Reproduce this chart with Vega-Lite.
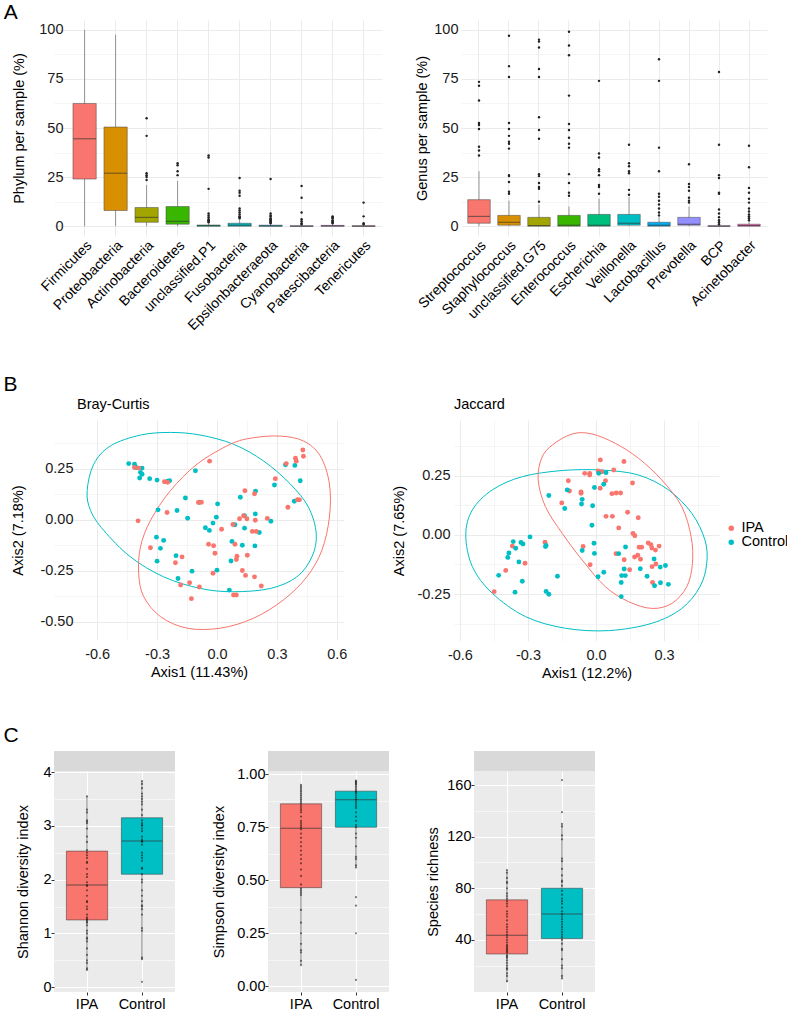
{
  "$schema": "https://vega.github.io/schema/vega-lite/v6.json",
  "background": "white",
  "padding": {"left": 3, "top": 2, "right": 0, "bottom": 0},
  "config": {
    "font": "Liberation Sans",
    "view": {"stroke": null},
    "axis": {"labelFont": "Liberation Sans", "titleFont": "Liberation Sans", "labelColor": "#1a1a1a", "titleColor": "#000000", "titleFontWeight": "normal", "labelFontSize": 14.5, "titleFontSize": 14.5, "domain": false, "labelOverlap": false},
    "title": {"font": "Liberation Sans", "fontWeight": "normal", "color": "#000000"},
    "legend": {"labelFont": "Liberation Sans"}
  },
  "datasets": {
    "phylum_box": [
      {"cat": "Firmicutes", "lo": 0, "q1": 24, "med": 44.5, "q3": 62.5, "hi": 100},
      {"cat": "Proteobacteria", "lo": 0, "q1": 8, "med": 27, "q3": 50.5, "hi": 97.5},
      {"cat": "Actinobacteria", "lo": 0, "q1": 2, "med": 4.5, "q3": 9.5, "hi": 21},
      {"cat": "Bacteroidetes", "lo": 0, "q1": 1, "med": 2.5, "q3": 10, "hi": 23},
      {"cat": "unclassified.P1", "lo": 0, "q1": 0, "med": 0.2, "q3": 0.6, "hi": 1.5},
      {"cat": "Fusobacteria", "lo": 0, "q1": 0, "med": 0.5, "q3": 1.5, "hi": 3.5},
      {"cat": "Epsilonbacteraeota", "lo": 0, "q1": 0, "med": 0.1, "q3": 0.5, "hi": 1.2},
      {"cat": "Cyanobacteria", "lo": 0, "q1": 0, "med": 0, "q3": 0.2, "hi": 0.5},
      {"cat": "Patescibacteria", "lo": 0, "q1": 0, "med": 0.1, "q3": 0.4, "hi": 1},
      {"cat": "Tenericutes", "lo": 0, "q1": 0, "med": 0, "q3": 0.2, "hi": 0.5}
    ],
    "phylum_out": [
      {"cat": "Actinobacteria", "v": 55}, {"cat": "Actinobacteria", "v": 46}, {"cat": "Actinobacteria", "v": 27}, {"cat": "Actinobacteria", "v": 26}, {"cat": "Actinobacteria", "v": 25}, {"cat": "Actinobacteria", "v": 23.5},
      {"cat": "Bacteroidetes", "v": 32}, {"cat": "Bacteroidetes", "v": 31}, {"cat": "Bacteroidetes", "v": 28}, {"cat": "Bacteroidetes", "v": 26},
      {"cat": "unclassified.P1", "v": 36}, {"cat": "unclassified.P1", "v": 35}, {"cat": "unclassified.P1", "v": 19}, {"cat": "unclassified.P1", "v": 6.5}, {"cat": "unclassified.P1", "v": 5.5}, {"cat": "unclassified.P1", "v": 4.5}, {"cat": "unclassified.P1", "v": 3.5}, {"cat": "unclassified.P1", "v": 3}, {"cat": "unclassified.P1", "v": 2.5}, {"cat": "unclassified.P1", "v": 2},
      {"cat": "Fusobacteria", "v": 24.5}, {"cat": "Fusobacteria", "v": 18}, {"cat": "Fusobacteria", "v": 17}, {"cat": "Fusobacteria", "v": 15.5}, {"cat": "Fusobacteria", "v": 9}, {"cat": "Fusobacteria", "v": 8}, {"cat": "Fusobacteria", "v": 7}, {"cat": "Fusobacteria", "v": 6}, {"cat": "Fusobacteria", "v": 5}, {"cat": "Fusobacteria", "v": 4.5}, {"cat": "Fusobacteria", "v": 4},
      {"cat": "Epsilonbacteraeota", "v": 24}, {"cat": "Epsilonbacteraeota", "v": 6.5}, {"cat": "Epsilonbacteraeota", "v": 5.5}, {"cat": "Epsilonbacteraeota", "v": 5}, {"cat": "Epsilonbacteraeota", "v": 4}, {"cat": "Epsilonbacteraeota", "v": 3.5}, {"cat": "Epsilonbacteraeota", "v": 3}, {"cat": "Epsilonbacteraeota", "v": 2.5}, {"cat": "Epsilonbacteraeota", "v": 2}, {"cat": "Epsilonbacteraeota", "v": 1.5},
      {"cat": "Cyanobacteria", "v": 20.5}, {"cat": "Cyanobacteria", "v": 14.5}, {"cat": "Cyanobacteria", "v": 7}, {"cat": "Cyanobacteria", "v": 3.5}, {"cat": "Cyanobacteria", "v": 2.5}, {"cat": "Cyanobacteria", "v": 1.5}, {"cat": "Cyanobacteria", "v": 1},
      {"cat": "Patescibacteria", "v": 5}, {"cat": "Patescibacteria", "v": 4.5}, {"cat": "Patescibacteria", "v": 4}, {"cat": "Patescibacteria", "v": 3}, {"cat": "Patescibacteria", "v": 2.5}, {"cat": "Patescibacteria", "v": 2}, {"cat": "Patescibacteria", "v": 1.5},
      {"cat": "Tenericutes", "v": 12}, {"cat": "Tenericutes", "v": 5}, {"cat": "Tenericutes", "v": 1.5}, {"cat": "Tenericutes", "v": 1}
    ],
    "genus_box": [
      {"cat": "Streptococcus", "lo": 0, "q1": 1.5, "med": 5, "q3": 13.5, "hi": 28},
      {"cat": "Staphylococcus", "lo": 0, "q1": 0.5, "med": 2, "q3": 5.5, "hi": 13},
      {"cat": "unclassified.G75", "lo": 0, "q1": 0, "med": 0.3, "q3": 4.5, "hi": 11},
      {"cat": "Enterococcus", "lo": 0, "q1": 0, "med": 0.5, "q3": 5.5, "hi": 10},
      {"cat": "Escherichia", "lo": 0, "q1": 0, "med": 0.5, "q3": 6, "hi": 14},
      {"cat": "Veillonella", "lo": 0, "q1": 0.5, "med": 1.5, "q3": 6, "hi": 15},
      {"cat": "Lactobacillus", "lo": 0, "q1": 0, "med": 0.5, "q3": 2, "hi": 4.5},
      {"cat": "Prevotella", "lo": 0, "q1": 0.5, "med": 1, "q3": 4.5, "hi": 10},
      {"cat": "BCP", "lo": 0, "q1": 0, "med": 0, "q3": 0.2, "hi": 0.5},
      {"cat": "Acinetobacter", "lo": 0, "q1": 0, "med": 0.3, "q3": 1, "hi": 2.5}
    ],
    "genus_out": [
      {"cat": "Streptococcus", "v": 73.5}, {"cat": "Streptococcus", "v": 71.5}, {"cat": "Streptococcus", "v": 64}, {"cat": "Streptococcus", "v": 52.5}, {"cat": "Streptococcus", "v": 51.5}, {"cat": "Streptococcus", "v": 49.5}, {"cat": "Streptococcus", "v": 40.5}, {"cat": "Streptococcus", "v": 38.5}, {"cat": "Streptococcus", "v": 36},
      {"cat": "Staphylococcus", "v": 97}, {"cat": "Staphylococcus", "v": 81.5}, {"cat": "Staphylococcus", "v": 76}, {"cat": "Staphylococcus", "v": 52.5}, {"cat": "Staphylococcus", "v": 49.5}, {"cat": "Staphylococcus", "v": 46}, {"cat": "Staphylococcus", "v": 43}, {"cat": "Staphylococcus", "v": 42}, {"cat": "Staphylococcus", "v": 39.5}, {"cat": "Staphylococcus", "v": 26}, {"cat": "Staphylococcus", "v": 25.5}, {"cat": "Staphylococcus", "v": 22.5}, {"cat": "Staphylococcus", "v": 17.5}, {"cat": "Staphylococcus", "v": 16.5},
      {"cat": "unclassified.G75", "v": 95}, {"cat": "unclassified.G75", "v": 94}, {"cat": "unclassified.G75", "v": 91}, {"cat": "unclassified.G75", "v": 80}, {"cat": "unclassified.G75", "v": 76}, {"cat": "unclassified.G75", "v": 55.5}, {"cat": "unclassified.G75", "v": 49}, {"cat": "unclassified.G75", "v": 44.5}, {"cat": "unclassified.G75", "v": 26.5}, {"cat": "unclassified.G75", "v": 25.5}, {"cat": "unclassified.G75", "v": 22}, {"cat": "unclassified.G75", "v": 20}, {"cat": "unclassified.G75", "v": 19}, {"cat": "unclassified.G75", "v": 12.5},
      {"cat": "Enterococcus", "v": 99}, {"cat": "Enterococcus", "v": 92}, {"cat": "Enterococcus", "v": 87}, {"cat": "Enterococcus", "v": 66.5}, {"cat": "Enterococcus", "v": 52}, {"cat": "Enterococcus", "v": 49}, {"cat": "Enterococcus", "v": 45}, {"cat": "Enterococcus", "v": 42}, {"cat": "Enterococcus", "v": 40}, {"cat": "Enterococcus", "v": 26.5}, {"cat": "Enterococcus", "v": 22}, {"cat": "Enterococcus", "v": 17}, {"cat": "Enterococcus", "v": 15.5},
      {"cat": "Escherichia", "v": 74}, {"cat": "Escherichia", "v": 37}, {"cat": "Escherichia", "v": 35}, {"cat": "Escherichia", "v": 29}, {"cat": "Escherichia", "v": 28}, {"cat": "Escherichia", "v": 26}, {"cat": "Escherichia", "v": 21}, {"cat": "Escherichia", "v": 20}, {"cat": "Escherichia", "v": 16.5},
      {"cat": "Veillonella", "v": 41.5}, {"cat": "Veillonella", "v": 32}, {"cat": "Veillonella", "v": 30.5}, {"cat": "Veillonella", "v": 28}, {"cat": "Veillonella", "v": 27}, {"cat": "Veillonella", "v": 18.5}, {"cat": "Veillonella", "v": 16},
      {"cat": "Lactobacillus", "v": 85}, {"cat": "Lactobacillus", "v": 74}, {"cat": "Lactobacillus", "v": 40}, {"cat": "Lactobacillus", "v": 28}, {"cat": "Lactobacillus", "v": 16.5}, {"cat": "Lactobacillus", "v": 15}, {"cat": "Lactobacillus", "v": 13}, {"cat": "Lactobacillus", "v": 11}, {"cat": "Lactobacillus", "v": 9}, {"cat": "Lactobacillus", "v": 7}, {"cat": "Lactobacillus", "v": 5.5},
      {"cat": "Prevotella", "v": 31.5}, {"cat": "Prevotella", "v": 21.5}, {"cat": "Prevotella", "v": 20}, {"cat": "Prevotella", "v": 18}, {"cat": "Prevotella", "v": 14.5}, {"cat": "Prevotella", "v": 13}, {"cat": "Prevotella", "v": 12},
      {"cat": "BCP", "v": 78.5}, {"cat": "BCP", "v": 41.5}, {"cat": "BCP", "v": 26}, {"cat": "BCP", "v": 24.5}, {"cat": "BCP", "v": 17}, {"cat": "BCP", "v": 16.5}, {"cat": "BCP", "v": 8.5}, {"cat": "BCP", "v": 6.5}, {"cat": "BCP", "v": 4.5}, {"cat": "BCP", "v": 3}, {"cat": "BCP", "v": 2}, {"cat": "BCP", "v": 1},
      {"cat": "Acinetobacter", "v": 41}, {"cat": "Acinetobacter", "v": 30}, {"cat": "Acinetobacter", "v": 19.5}, {"cat": "Acinetobacter", "v": 17}, {"cat": "Acinetobacter", "v": 14}, {"cat": "Acinetobacter", "v": 12}, {"cat": "Acinetobacter", "v": 9}, {"cat": "Acinetobacter", "v": 7.5}, {"cat": "Acinetobacter", "v": 6}, {"cat": "Acinetobacter", "v": 5}, {"cat": "Acinetobacter", "v": 4}, {"cat": "Acinetobacter", "v": 3}
    ],
    "bc_pts": [
      {"g": "Control", "x": -0.442, "y": 0.276}, {"g": "Control", "x": -0.413, "y": 0.273}, {"g": "Control", "x": -0.405, "y": 0.257}, {"g": "Control", "x": -0.375, "y": 0.254}, {"g": "Control", "x": -0.383, "y": 0.233}, {"g": "Control", "x": -0.375, "y": 0.224}, {"g": "Control", "x": -0.387, "y": 0.205}, {"g": "Control", "x": -0.337, "y": 0.202}, {"g": "Control", "x": -0.3, "y": 0.195}, {"g": "Control", "x": -0.247, "y": 0.189}, {"g": "Control", "x": -0.237, "y": 0.192}, {"g": "Control", "x": -0.108, "y": 0.241}, {"g": "Control", "x": -0.158, "y": 0.107}, {"g": "Control", "x": -0.087, "y": 0.086}, {"g": "Control", "x": 0.003, "y": 0.078}, {"g": "Control", "x": -0.295, "y": 0.049}, {"g": "Control", "x": -0.2, "y": 0.046}, {"g": "Control", "x": -0.147, "y": 0.008}, {"g": "Control", "x": -0.003, "y": 0.013}, {"g": "Control", "x": -0.02, "y": -0.016}, {"g": "Control", "x": -0.058, "y": -0.039}, {"g": "Control", "x": -0.038, "y": -0.052}, {"g": "Control", "x": 0.09, "y": -0.024}, {"g": "Control", "x": 0.138, "y": 0.02}, {"g": "Control", "x": 0.138, "y": -0.041}, {"g": "Control", "x": 0.193, "y": 0.14}, {"g": "Control", "x": 0.117, "y": 0.111}, {"g": "Control", "x": 0.192, "y": 0.029}, {"g": "Control", "x": 0.212, "y": -0.062}, {"g": "Control", "x": 0.27, "y": -0.007}, {"g": "Control", "x": 0.288, "y": 0.171}, {"g": "Control", "x": 0.417, "y": 0.192}, {"g": "Control", "x": 0.343, "y": 0.27}, {"g": "Control", "x": 0.39, "y": 0.267}, {"g": "Control", "x": 0.387, "y": 0.091}, {"g": "Control", "x": -0.303, "y": -0.085}, {"g": "Control", "x": -0.267, "y": -0.101}, {"g": "Control", "x": -0.283, "y": -0.14}, {"g": "Control", "x": -0.3, "y": -0.203}, {"g": "Control", "x": -0.205, "y": -0.176}, {"g": "Control", "x": -0.125, "y": -0.252}, {"g": "Control", "x": -0.195, "y": -0.288}, {"g": "Control", "x": 0.0, "y": -0.247}, {"g": "Control", "x": 0.075, "y": -0.106}, {"g": "Control", "x": 0.127, "y": -0.125}, {"g": "Control", "x": 0.19, "y": -0.128}, {"g": "Control", "x": 0.07, "y": -0.202}, {"g": "Control", "x": 0.062, "y": -0.345},
      {"g": "IPA", "x": -0.037, "y": 0.288}, {"g": "IPA", "x": -0.413, "y": 0.257}, {"g": "IPA", "x": -0.392, "y": 0.254}, {"g": "IPA", "x": -0.263, "y": 0.187}, {"g": "IPA", "x": -0.247, "y": 0.184}, {"g": "IPA", "x": -0.395, "y": -0.005}, {"g": "IPA", "x": -0.25, "y": 0.036}, {"g": "IPA", "x": -0.333, "y": -0.137}, {"g": "IPA", "x": -0.175, "y": -0.182}, {"g": "IPA", "x": -0.208, "y": -0.211}, {"g": "IPA", "x": -0.137, "y": -0.309}, {"g": "IPA", "x": -0.182, "y": -0.32}, {"g": "IPA", "x": -0.088, "y": -0.33}, {"g": "IPA", "x": -0.128, "y": -0.387}, {"g": "IPA", "x": -0.078, "y": 0.086}, {"g": "IPA", "x": -0.093, "y": 0.085}, {"g": "IPA", "x": -0.042, "y": -0.12}, {"g": "IPA", "x": -0.017, "y": -0.127}, {"g": "IPA", "x": -0.01, "y": -0.164}, {"g": "IPA", "x": -0.02, "y": -0.262}, {"g": "IPA", "x": 0.023, "y": -0.046}, {"g": "IPA", "x": 0.08, "y": -0.023}, {"g": "IPA", "x": 0.113, "y": 0.005}, {"g": "IPA", "x": 0.133, "y": 0.02}, {"g": "IPA", "x": 0.15, "y": 0.005}, {"g": "IPA", "x": 0.192, "y": -0.002}, {"g": "IPA", "x": 0.252, "y": 0.007}, {"g": "IPA", "x": 0.188, "y": 0.128}, {"g": "IPA", "x": 0.14, "y": 0.143}, {"g": "IPA", "x": 0.177, "y": -0.057}, {"g": "IPA", "x": 0.197, "y": -0.057}, {"g": "IPA", "x": 0.09, "y": -0.12}, {"g": "IPA", "x": 0.1, "y": -0.179}, {"g": "IPA", "x": 0.097, "y": -0.195}, {"g": "IPA", "x": 0.152, "y": -0.174}, {"g": "IPA", "x": 0.127, "y": -0.249}, {"g": "IPA", "x": 0.143, "y": -0.273}, {"g": "IPA", "x": 0.188, "y": -0.28}, {"g": "IPA", "x": 0.222, "y": -0.325}, {"g": "IPA", "x": 0.083, "y": -0.369}, {"g": "IPA", "x": 0.097, "y": -0.369}, {"g": "IPA", "x": 0.292, "y": 0.202}, {"g": "IPA", "x": 0.347, "y": 0.276}, {"g": "IPA", "x": 0.393, "y": 0.302}, {"g": "IPA", "x": 0.397, "y": 0.288}, {"g": "IPA", "x": 0.43, "y": 0.343}, {"g": "IPA", "x": 0.433, "y": 0.312}, {"g": "IPA", "x": 0.355, "y": 0.062}, {"g": "IPA", "x": 0.403, "y": 0.099}, {"g": "IPA", "x": 0.413, "y": 0.098}
    ],
    "bc_ell": [
      {"g": "Control", "i": 0, "x": -0.65, "y": 0.143}, {"g": "Control", "i": 1, "x": -0.617, "y": 0.273}, {"g": "Control", "i": 2, "x": -0.533, "y": 0.363}, {"g": "Control", "i": 3, "x": -0.383, "y": 0.416}, {"g": "Control", "i": 4, "x": -0.233, "y": 0.429}, {"g": "Control", "i": 5, "x": -0.083, "y": 0.416}, {"g": "Control", "i": 6, "x": 0.083, "y": 0.371}, {"g": "Control", "i": 7, "x": 0.233, "y": 0.289}, {"g": "Control", "i": 8, "x": 0.367, "y": 0.176}, {"g": "Control", "i": 9, "x": 0.458, "y": 0.062}, {"g": "Control", "i": 10, "x": 0.497, "y": -0.068}, {"g": "Control", "i": 11, "x": 0.475, "y": -0.182}, {"g": "Control", "i": 12, "x": 0.4, "y": -0.28}, {"g": "Control", "i": 13, "x": 0.267, "y": -0.337}, {"g": "Control", "i": 14, "x": 0.083, "y": -0.353}, {"g": "Control", "i": 15, "x": -0.083, "y": -0.337}, {"g": "Control", "i": 16, "x": -0.267, "y": -0.28}, {"g": "Control", "i": 17, "x": -0.433, "y": -0.182}, {"g": "Control", "i": 18, "x": -0.567, "y": -0.052}, {"g": "Control", "i": 19, "x": -0.633, "y": 0.046},
      {"g": "IPA", "i": 0, "x": 0.067, "y": 0.371}, {"g": "IPA", "i": 1, "x": 0.183, "y": 0.403}, {"g": "IPA", "i": 2, "x": 0.317, "y": 0.411}, {"g": "IPA", "i": 3, "x": 0.433, "y": 0.387}, {"g": "IPA", "i": 4, "x": 0.517, "y": 0.314}, {"g": "IPA", "i": 5, "x": 0.563, "y": 0.176}, {"g": "IPA", "i": 6, "x": 0.563, "y": 0.013}, {"g": "IPA", "i": 7, "x": 0.525, "y": -0.15}, {"g": "IPA", "i": 8, "x": 0.45, "y": -0.28}, {"g": "IPA", "i": 9, "x": 0.333, "y": -0.393}, {"g": "IPA", "i": 10, "x": 0.183, "y": -0.483}, {"g": "IPA", "i": 11, "x": 0.017, "y": -0.532}, {"g": "IPA", "i": 12, "x": -0.15, "y": -0.532}, {"g": "IPA", "i": 13, "x": -0.283, "y": -0.475}, {"g": "IPA", "i": 14, "x": -0.367, "y": -0.377}, {"g": "IPA", "i": 15, "x": -0.392, "y": -0.263}, {"g": "IPA", "i": 16, "x": -0.383, "y": -0.133}, {"g": "IPA", "i": 17, "x": -0.333, "y": -0.003}, {"g": "IPA", "i": 18, "x": -0.233, "y": 0.143}, {"g": "IPA", "i": 19, "x": -0.1, "y": 0.273}
    ],
    "jac_pts": [
      {"g": "IPA", "x": 0.019, "y": 0.318}, {"g": "IPA", "x": 0.123, "y": 0.311}, {"g": "IPA", "x": -0.05, "y": 0.261}, {"g": "IPA", "x": -0.028, "y": 0.261}, {"g": "IPA", "x": -0.028, "y": 0.254}, {"g": "IPA", "x": 0.009, "y": 0.271}, {"g": "IPA", "x": 0.026, "y": 0.268}, {"g": "IPA", "x": 0.078, "y": 0.275}, {"g": "IPA", "x": -0.122, "y": 0.23}, {"g": "IPA", "x": -0.117, "y": 0.186}, {"g": "IPA", "x": -0.066, "y": 0.182}, {"g": "IPA", "x": -0.066, "y": 0.177}, {"g": "IPA", "x": 0.042, "y": 0.23}, {"g": "IPA", "x": 0.018, "y": 0.198}, {"g": "IPA", "x": 0.07, "y": 0.175}, {"g": "IPA", "x": 0.089, "y": 0.178}, {"g": "IPA", "x": 0.108, "y": 0.178}, {"g": "IPA", "x": 0.161, "y": 0.22}, {"g": "IPA", "x": -0.151, "y": 0.136}, {"g": "IPA", "x": 0.139, "y": 0.096}, {"g": "IPA", "x": 0.044, "y": 0.079}, {"g": "IPA", "x": 0.072, "y": 0.079}, {"g": "IPA", "x": 0.186, "y": 0.073}, {"g": "IPA", "x": 0.1, "y": 0.03}, {"g": "IPA", "x": 0.163, "y": 0.006}, {"g": "IPA", "x": 0.171, "y": -0.003}, {"g": "IPA", "x": -0.225, "y": -0.031}, {"g": "IPA", "x": -0.369, "y": -0.047}, {"g": "IPA", "x": -0.057, "y": -0.049}, {"g": "IPA", "x": -0.313, "y": -0.12}, {"g": "IPA", "x": -0.398, "y": -0.15}, {"g": "IPA", "x": -0.449, "y": -0.24}, {"g": "IPA", "x": -0.026, "y": -0.126}, {"g": "IPA", "x": 0.088, "y": -0.079}, {"g": "IPA", "x": 0.124, "y": -0.105}, {"g": "IPA", "x": 0.148, "y": -0.147}, {"g": "IPA", "x": 0.17, "y": -0.093}, {"g": "IPA", "x": 0.184, "y": -0.086}, {"g": "IPA", "x": 0.19, "y": -0.052}, {"g": "IPA", "x": 0.201, "y": -0.052}, {"g": "IPA", "x": 0.23, "y": -0.034}, {"g": "IPA", "x": 0.242, "y": -0.041}, {"g": "IPA", "x": 0.246, "y": -0.055}, {"g": "IPA", "x": 0.262, "y": -0.064}, {"g": "IPA", "x": 0.278, "y": -0.047}, {"g": "IPA", "x": 0.196, "y": -0.103}, {"g": "IPA", "x": 0.247, "y": -0.134}, {"g": "IPA", "x": 0.264, "y": -0.123}, {"g": "IPA", "x": 0.249, "y": -0.201},
      {"g": "Control", "x": 0.012, "y": 0.261}, {"g": "Control", "x": 0.044, "y": 0.264}, {"g": "Control", "x": 0.034, "y": 0.215}, {"g": "Control", "x": -0.007, "y": 0.201}, {"g": "Control", "x": -0.127, "y": 0.191}, {"g": "Control", "x": -0.208, "y": 0.167}, {"g": "Control", "x": -0.061, "y": 0.151}, {"g": "Control", "x": -0.064, "y": 0.131}, {"g": "Control", "x": -0.138, "y": 0.112}, {"g": "Control", "x": -0.015, "y": 0.124}, {"g": "Control", "x": -0.018, "y": 0.041}, {"g": "Control", "x": -0.291, "y": -0.008}, {"g": "Control", "x": -0.365, "y": -0.028}, {"g": "Control", "x": -0.331, "y": -0.032}, {"g": "Control", "x": -0.322, "y": -0.038}, {"g": "Control", "x": -0.354, "y": -0.056}, {"g": "Control", "x": -0.384, "y": -0.076}, {"g": "Control", "x": -0.389, "y": -0.095}, {"g": "Control", "x": -0.34, "y": -0.114}, {"g": "Control", "x": -0.429, "y": -0.171}, {"g": "Control", "x": -0.325, "y": -0.196}, {"g": "Control", "x": -0.357, "y": -0.242}, {"g": "Control", "x": -0.22, "y": -0.239}, {"g": "Control", "x": -0.208, "y": -0.251}, {"g": "Control", "x": -0.17, "y": -0.175}, {"g": "Control", "x": -0.223, "y": -0.049}, {"g": "Control", "x": -0.22, "y": -0.044}, {"g": "Control", "x": -0.061, "y": -0.066}, {"g": "Control", "x": -0.009, "y": -0.035}, {"g": "Control", "x": -0.007, "y": -0.078}, {"g": "Control", "x": 0.009, "y": -0.177}, {"g": "Control", "x": 0.034, "y": -0.158}, {"g": "Control", "x": 0.1, "y": -0.079}, {"g": "Control", "x": 0.13, "y": -0.051}, {"g": "Control", "x": 0.124, "y": -0.144}, {"g": "Control", "x": 0.113, "y": -0.172}, {"g": "Control", "x": 0.129, "y": -0.172}, {"g": "Control", "x": 0.111, "y": -0.201}, {"g": "Control", "x": 0.111, "y": -0.261}, {"g": "Control", "x": 0.195, "y": -0.143}, {"g": "Control", "x": 0.225, "y": -0.175}, {"g": "Control", "x": 0.256, "y": -0.102}, {"g": "Control", "x": 0.283, "y": -0.136}, {"g": "Control", "x": 0.306, "y": -0.129}, {"g": "Control", "x": 0.284, "y": -0.202}, {"g": "Control", "x": 0.258, "y": -0.215}, {"g": "Control", "x": 0.319, "y": -0.209}
    ],
    "jac_ell": [
      {"g": "Control", "i": 0, "x": -0.574, "y": 0.0}, {"g": "Control", "i": 1, "x": -0.545, "y": 0.106}, {"g": "Control", "i": 2, "x": -0.457, "y": 0.191}, {"g": "Control", "i": 3, "x": -0.325, "y": 0.247}, {"g": "Control", "i": 4, "x": -0.149, "y": 0.273}, {"g": "Control", "i": 5, "x": 0.026, "y": 0.275}, {"g": "Control", "i": 6, "x": 0.187, "y": 0.254}, {"g": "Control", "i": 7, "x": 0.319, "y": 0.191}, {"g": "Control", "i": 8, "x": 0.422, "y": 0.092}, {"g": "Control", "i": 9, "x": 0.48, "y": -0.021}, {"g": "Control", "i": 10, "x": 0.488, "y": -0.12}, {"g": "Control", "i": 11, "x": 0.458, "y": -0.219}, {"g": "Control", "i": 12, "x": 0.378, "y": -0.311}, {"g": "Control", "i": 13, "x": 0.246, "y": -0.374}, {"g": "Control", "i": 14, "x": 0.056, "y": -0.405}, {"g": "Control", "i": 15, "x": -0.135, "y": -0.395}, {"g": "Control", "i": 16, "x": -0.31, "y": -0.346}, {"g": "Control", "i": 17, "x": -0.457, "y": -0.247}, {"g": "Control", "i": 18, "x": -0.545, "y": -0.134},
      {"g": "IPA", "i": 0, "x": -0.193, "y": 0.381}, {"g": "IPA", "i": 1, "x": -0.105, "y": 0.428}, {"g": "IPA", "i": 2, "x": -0.018, "y": 0.428}, {"g": "IPA", "i": 3, "x": 0.085, "y": 0.388}, {"g": "IPA", "i": 4, "x": 0.187, "y": 0.325}, {"g": "IPA", "i": 5, "x": 0.29, "y": 0.233}, {"g": "IPA", "i": 6, "x": 0.378, "y": 0.12}, {"g": "IPA", "i": 7, "x": 0.419, "y": -0.007}, {"g": "IPA", "i": 8, "x": 0.425, "y": -0.12}, {"g": "IPA", "i": 9, "x": 0.4, "y": -0.219}, {"g": "IPA", "i": 10, "x": 0.334, "y": -0.29}, {"g": "IPA", "i": 11, "x": 0.246, "y": -0.311}, {"g": "IPA", "i": 12, "x": 0.143, "y": -0.282}, {"g": "IPA", "i": 13, "x": 0.041, "y": -0.219}, {"g": "IPA", "i": 14, "x": -0.061, "y": -0.106}, {"g": "IPA", "i": 15, "x": -0.149, "y": 0.007}, {"g": "IPA", "i": 16, "x": -0.223, "y": 0.12}, {"g": "IPA", "i": 17, "x": -0.255, "y": 0.233}, {"g": "IPA", "i": 18, "x": -0.24, "y": 0.325}
    ],
    "div_box": [
      {"m": "Shannon", "g": "IPA", "lo": 0.32, "q1": 1.25, "med": 1.9, "q3": 2.53, "hi": 3.55},
      {"m": "Shannon", "g": "Control", "lo": 0.52, "q1": 2.1, "med": 2.72, "q3": 3.15, "hi": 3.83},
      {"m": "Simpson", "g": "IPA", "lo": 0.1, "q1": 0.465, "med": 0.745, "q3": 0.86, "hi": 0.95},
      {"m": "Simpson", "g": "Control", "lo": 0.56, "q1": 0.75, "med": 0.88, "q3": 0.92, "hi": 0.97},
      {"m": "Richness", "g": "IPA", "lo": 7, "q1": 29, "med": 43.5, "q3": 71, "hi": 94},
      {"m": "Richness", "g": "Control", "lo": 10, "q1": 41, "med": 60, "q3": 80, "hi": 130}
    ],
    "div_pts": [
      {"m": "Shannon", "g": "IPA", "v": 3.55}, {"m": "Shannon", "g": "IPA", "v": 3.3}, {"m": "Shannon", "g": "IPA", "v": 3.25}, {"m": "Shannon", "g": "IPA", "v": 3.1}, {"m": "Shannon", "g": "IPA", "v": 3.08}, {"m": "Shannon", "g": "IPA", "v": 3.05}, {"m": "Shannon", "g": "IPA", "v": 2.95}, {"m": "Shannon", "g": "IPA", "v": 2.8}, {"m": "Shannon", "g": "IPA", "v": 2.7}, {"m": "Shannon", "g": "IPA", "v": 2.55}, {"m": "Shannon", "g": "IPA", "v": 2.5}, {"m": "Shannon", "g": "IPA", "v": 2.45}, {"m": "Shannon", "g": "IPA", "v": 2.4}, {"m": "Shannon", "g": "IPA", "v": 2.33}, {"m": "Shannon", "g": "IPA", "v": 2.31}, {"m": "Shannon", "g": "IPA", "v": 2.2}, {"m": "Shannon", "g": "IPA", "v": 2.1}, {"m": "Shannon", "g": "IPA", "v": 2.05}, {"m": "Shannon", "g": "IPA", "v": 1.95}, {"m": "Shannon", "g": "IPA", "v": 1.9}, {"m": "Shannon", "g": "IPA", "v": 1.88}, {"m": "Shannon", "g": "IPA", "v": 1.8}, {"m": "Shannon", "g": "IPA", "v": 1.7}, {"m": "Shannon", "g": "IPA", "v": 1.6}, {"m": "Shannon", "g": "IPA", "v": 1.58}, {"m": "Shannon", "g": "IPA", "v": 1.5}, {"m": "Shannon", "g": "IPA", "v": 1.45}, {"m": "Shannon", "g": "IPA", "v": 1.35}, {"m": "Shannon", "g": "IPA", "v": 1.3}, {"m": "Shannon", "g": "IPA", "v": 1.27}, {"m": "Shannon", "g": "IPA", "v": 1.25}, {"m": "Shannon", "g": "IPA", "v": 1.22}, {"m": "Shannon", "g": "IPA", "v": 1.2}, {"m": "Shannon", "g": "IPA", "v": 1.15}, {"m": "Shannon", "g": "IPA", "v": 1.05}, {"m": "Shannon", "g": "IPA", "v": 1.0}, {"m": "Shannon", "g": "IPA", "v": 0.92}, {"m": "Shannon", "g": "IPA", "v": 0.9}, {"m": "Shannon", "g": "IPA", "v": 0.85}, {"m": "Shannon", "g": "IPA", "v": 0.72}, {"m": "Shannon", "g": "IPA", "v": 0.6}, {"m": "Shannon", "g": "IPA", "v": 0.5}, {"m": "Shannon", "g": "IPA", "v": 0.45}, {"m": "Shannon", "g": "IPA", "v": 0.35}, {"m": "Shannon", "g": "IPA", "v": 0.32},
      {"m": "Shannon", "g": "Control", "v": 3.83}, {"m": "Shannon", "g": "Control", "v": 3.78}, {"m": "Shannon", "g": "Control", "v": 3.7}, {"m": "Shannon", "g": "Control", "v": 3.6}, {"m": "Shannon", "g": "Control", "v": 3.55}, {"m": "Shannon", "g": "Control", "v": 3.5}, {"m": "Shannon", "g": "Control", "v": 3.45}, {"m": "Shannon", "g": "Control", "v": 3.4}, {"m": "Shannon", "g": "Control", "v": 3.3}, {"m": "Shannon", "g": "Control", "v": 3.2}, {"m": "Shannon", "g": "Control", "v": 3.1}, {"m": "Shannon", "g": "Control", "v": 3.05}, {"m": "Shannon", "g": "Control", "v": 3.02}, {"m": "Shannon", "g": "Control", "v": 3.0}, {"m": "Shannon", "g": "Control", "v": 2.95}, {"m": "Shannon", "g": "Control", "v": 2.9}, {"m": "Shannon", "g": "Control", "v": 2.8}, {"m": "Shannon", "g": "Control", "v": 2.75}, {"m": "Shannon", "g": "Control", "v": 2.72}, {"m": "Shannon", "g": "Control", "v": 2.7}, {"m": "Shannon", "g": "Control", "v": 2.65}, {"m": "Shannon", "g": "Control", "v": 2.5}, {"m": "Shannon", "g": "Control", "v": 2.45}, {"m": "Shannon", "g": "Control", "v": 2.4}, {"m": "Shannon", "g": "Control", "v": 2.35}, {"m": "Shannon", "g": "Control", "v": 2.22}, {"m": "Shannon", "g": "Control", "v": 2.2}, {"m": "Shannon", "g": "Control", "v": 2.1}, {"m": "Shannon", "g": "Control", "v": 2.0}, {"m": "Shannon", "g": "Control", "v": 1.95}, {"m": "Shannon", "g": "Control", "v": 1.8}, {"m": "Shannon", "g": "Control", "v": 1.7}, {"m": "Shannon", "g": "Control", "v": 1.6}, {"m": "Shannon", "g": "Control", "v": 1.52}, {"m": "Shannon", "g": "Control", "v": 1.5}, {"m": "Shannon", "g": "Control", "v": 1.45}, {"m": "Shannon", "g": "Control", "v": 1.35}, {"m": "Shannon", "g": "Control", "v": 1.1}, {"m": "Shannon", "g": "Control", "v": 1.05}, {"m": "Shannon", "g": "Control", "v": 0.55}, {"m": "Shannon", "g": "Control", "v": 0.52}, {"m": "Shannon", "g": "Control", "v": 0.1},
      {"m": "Simpson", "g": "IPA", "v": 0.95}, {"m": "Simpson", "g": "IPA", "v": 0.94}, {"m": "Simpson", "g": "IPA", "v": 0.93}, {"m": "Simpson", "g": "IPA", "v": 0.92}, {"m": "Simpson", "g": "IPA", "v": 0.91}, {"m": "Simpson", "g": "IPA", "v": 0.9}, {"m": "Simpson", "g": "IPA", "v": 0.89}, {"m": "Simpson", "g": "IPA", "v": 0.88}, {"m": "Simpson", "g": "IPA", "v": 0.87}, {"m": "Simpson", "g": "IPA", "v": 0.86}, {"m": "Simpson", "g": "IPA", "v": 0.85}, {"m": "Simpson", "g": "IPA", "v": 0.84}, {"m": "Simpson", "g": "IPA", "v": 0.83}, {"m": "Simpson", "g": "IPA", "v": 0.82}, {"m": "Simpson", "g": "IPA", "v": 0.8}, {"m": "Simpson", "g": "IPA", "v": 0.78}, {"m": "Simpson", "g": "IPA", "v": 0.77}, {"m": "Simpson", "g": "IPA", "v": 0.76}, {"m": "Simpson", "g": "IPA", "v": 0.75}, {"m": "Simpson", "g": "IPA", "v": 0.74}, {"m": "Simpson", "g": "IPA", "v": 0.72}, {"m": "Simpson", "g": "IPA", "v": 0.7}, {"m": "Simpson", "g": "IPA", "v": 0.68}, {"m": "Simpson", "g": "IPA", "v": 0.66}, {"m": "Simpson", "g": "IPA", "v": 0.64}, {"m": "Simpson", "g": "IPA", "v": 0.62}, {"m": "Simpson", "g": "IPA", "v": 0.6}, {"m": "Simpson", "g": "IPA", "v": 0.58}, {"m": "Simpson", "g": "IPA", "v": 0.55}, {"m": "Simpson", "g": "IPA", "v": 0.52}, {"m": "Simpson", "g": "IPA", "v": 0.48}, {"m": "Simpson", "g": "IPA", "v": 0.46}, {"m": "Simpson", "g": "IPA", "v": 0.45}, {"m": "Simpson", "g": "IPA", "v": 0.44}, {"m": "Simpson", "g": "IPA", "v": 0.43}, {"m": "Simpson", "g": "IPA", "v": 0.36}, {"m": "Simpson", "g": "IPA", "v": 0.3}, {"m": "Simpson", "g": "IPA", "v": 0.25}, {"m": "Simpson", "g": "IPA", "v": 0.2}, {"m": "Simpson", "g": "IPA", "v": 0.17}, {"m": "Simpson", "g": "IPA", "v": 0.16}, {"m": "Simpson", "g": "IPA", "v": 0.12}, {"m": "Simpson", "g": "IPA", "v": 0.1},
      {"m": "Simpson", "g": "Control", "v": 0.97}, {"m": "Simpson", "g": "Control", "v": 0.965}, {"m": "Simpson", "g": "Control", "v": 0.96}, {"m": "Simpson", "g": "Control", "v": 0.955}, {"m": "Simpson", "g": "Control", "v": 0.95}, {"m": "Simpson", "g": "Control", "v": 0.94}, {"m": "Simpson", "g": "Control", "v": 0.93}, {"m": "Simpson", "g": "Control", "v": 0.92}, {"m": "Simpson", "g": "Control", "v": 0.915}, {"m": "Simpson", "g": "Control", "v": 0.91}, {"m": "Simpson", "g": "Control", "v": 0.9}, {"m": "Simpson", "g": "Control", "v": 0.89}, {"m": "Simpson", "g": "Control", "v": 0.88}, {"m": "Simpson", "g": "Control", "v": 0.87}, {"m": "Simpson", "g": "Control", "v": 0.86}, {"m": "Simpson", "g": "Control", "v": 0.85}, {"m": "Simpson", "g": "Control", "v": 0.84}, {"m": "Simpson", "g": "Control", "v": 0.82}, {"m": "Simpson", "g": "Control", "v": 0.8}, {"m": "Simpson", "g": "Control", "v": 0.78}, {"m": "Simpson", "g": "Control", "v": 0.76}, {"m": "Simpson", "g": "Control", "v": 0.75}, {"m": "Simpson", "g": "Control", "v": 0.72}, {"m": "Simpson", "g": "Control", "v": 0.7}, {"m": "Simpson", "g": "Control", "v": 0.66}, {"m": "Simpson", "g": "Control", "v": 0.61}, {"m": "Simpson", "g": "Control", "v": 0.6}, {"m": "Simpson", "g": "Control", "v": 0.57}, {"m": "Simpson", "g": "Control", "v": 0.56}, {"m": "Simpson", "g": "Control", "v": 0.42}, {"m": "Simpson", "g": "Control", "v": 0.38}, {"m": "Simpson", "g": "Control", "v": 0.25}, {"m": "Simpson", "g": "Control", "v": 0.03},
      {"m": "Richness", "g": "IPA", "v": 94}, {"m": "Richness", "g": "IPA", "v": 92}, {"m": "Richness", "g": "IPA", "v": 88}, {"m": "Richness", "g": "IPA", "v": 85}, {"m": "Richness", "g": "IPA", "v": 84}, {"m": "Richness", "g": "IPA", "v": 80}, {"m": "Richness", "g": "IPA", "v": 76}, {"m": "Richness", "g": "IPA", "v": 74}, {"m": "Richness", "g": "IPA", "v": 72}, {"m": "Richness", "g": "IPA", "v": 70}, {"m": "Richness", "g": "IPA", "v": 68}, {"m": "Richness", "g": "IPA", "v": 66}, {"m": "Richness", "g": "IPA", "v": 62}, {"m": "Richness", "g": "IPA", "v": 60}, {"m": "Richness", "g": "IPA", "v": 58}, {"m": "Richness", "g": "IPA", "v": 55}, {"m": "Richness", "g": "IPA", "v": 52}, {"m": "Richness", "g": "IPA", "v": 50}, {"m": "Richness", "g": "IPA", "v": 48}, {"m": "Richness", "g": "IPA", "v": 46}, {"m": "Richness", "g": "IPA", "v": 44}, {"m": "Richness", "g": "IPA", "v": 42}, {"m": "Richness", "g": "IPA", "v": 40}, {"m": "Richness", "g": "IPA", "v": 38}, {"m": "Richness", "g": "IPA", "v": 36}, {"m": "Richness", "g": "IPA", "v": 35}, {"m": "Richness", "g": "IPA", "v": 34}, {"m": "Richness", "g": "IPA", "v": 33}, {"m": "Richness", "g": "IPA", "v": 32}, {"m": "Richness", "g": "IPA", "v": 31}, {"m": "Richness", "g": "IPA", "v": 30}, {"m": "Richness", "g": "IPA", "v": 28}, {"m": "Richness", "g": "IPA", "v": 27}, {"m": "Richness", "g": "IPA", "v": 26}, {"m": "Richness", "g": "IPA", "v": 24}, {"m": "Richness", "g": "IPA", "v": 22}, {"m": "Richness", "g": "IPA", "v": 20}, {"m": "Richness", "g": "IPA", "v": 18}, {"m": "Richness", "g": "IPA", "v": 17}, {"m": "Richness", "g": "IPA", "v": 14}, {"m": "Richness", "g": "IPA", "v": 12}, {"m": "Richness", "g": "IPA", "v": 8},
      {"m": "Richness", "g": "Control", "v": 164}, {"m": "Richness", "g": "Control", "v": 139}, {"m": "Richness", "g": "Control", "v": 130}, {"m": "Richness", "g": "Control", "v": 128}, {"m": "Richness", "g": "Control", "v": 121}, {"m": "Richness", "g": "Control", "v": 118}, {"m": "Richness", "g": "Control", "v": 103}, {"m": "Richness", "g": "Control", "v": 101}, {"m": "Richness", "g": "Control", "v": 95}, {"m": "Richness", "g": "Control", "v": 90}, {"m": "Richness", "g": "Control", "v": 86}, {"m": "Richness", "g": "Control", "v": 85}, {"m": "Richness", "g": "Control", "v": 82}, {"m": "Richness", "g": "Control", "v": 78}, {"m": "Richness", "g": "Control", "v": 75}, {"m": "Richness", "g": "Control", "v": 72}, {"m": "Richness", "g": "Control", "v": 70}, {"m": "Richness", "g": "Control", "v": 68}, {"m": "Richness", "g": "Control", "v": 65}, {"m": "Richness", "g": "Control", "v": 62}, {"m": "Richness", "g": "Control", "v": 60}, {"m": "Richness", "g": "Control", "v": 58}, {"m": "Richness", "g": "Control", "v": 56}, {"m": "Richness", "g": "Control", "v": 54}, {"m": "Richness", "g": "Control", "v": 52}, {"m": "Richness", "g": "Control", "v": 50}, {"m": "Richness", "g": "Control", "v": 48}, {"m": "Richness", "g": "Control", "v": 46}, {"m": "Richness", "g": "Control", "v": 44}, {"m": "Richness", "g": "Control", "v": 42}, {"m": "Richness", "g": "Control", "v": 40}, {"m": "Richness", "g": "Control", "v": 37}, {"m": "Richness", "g": "Control", "v": 33}, {"m": "Richness", "g": "Control", "v": 32}, {"m": "Richness", "g": "Control", "v": 25}, {"m": "Richness", "g": "Control", "v": 20}, {"m": "Richness", "g": "Control", "v": 18}, {"m": "Richness", "g": "Control", "v": 12}, {"m": "Richness", "g": "Control", "v": 10}
    ]
  },
  "resolve": {"scale": {"color": "independent"}},
  "spacing": 40,
  "vconcat": [
    {
      "title": {"text": "A", "anchor": "start", "fontSize": 21, "dx": -8, "offset": -3},
      "resolve": {"scale": {"color": "independent"}},
      "spacing": 32,
      "hconcat": [
        {
          "width": 328, "height": 216,
          "layer": [
            {"data": {"name": "phylum_box"}, "mark": {"type": "rule", "color": "#555555", "strokeWidth": 0.6},
             "encoding": {
               "x": {"field": "cat", "type": "nominal", "scale": {"domain": ["Firmicutes", "Proteobacteria", "Actinobacteria", "Bacteroidetes", "unclassified.P1", "Fusobacteria", "Epsilonbacteraeota", "Cyanobacteria", "Patescibacteria", "Tenericutes"], "paddingInner": 0.25, "paddingOuter": 0.4153, "align": 0.737},
                     "axis": {"title": null, "labelAngle": -45, "labelAlign": "right", "labelBaseline": "top", "labelFontSize": 14, "ticks": false, "grid": true, "gridColor": "#EBEBEB", "bandPosition": 0.5, "labelPadding": 2, "labelColor": "#000000"}},
               "y": {"field": "lo", "type": "quantitative", "scale": {"domain": [-5, 105], "nice": false, "zero": false},
                     "axis": {"title": "Phylum per sample (%)", "offset": -12, "values": [0, 12.5, 25, 37.5, 50, 62.5, 75, 87.5, 100], "tickCount": 30, "format": ".0f", "labelExpr": "datum.value % 25 == 0 ? datum.label : ''", "labelOverlap": false, "ticks": false, "gridColor": "#EBEBEB", "gridWidth": {"condition": {"test": "datum.value % 25 != 0", "value": 0.5}, "value": 1}, "labelPadding": 3, "titlePadding": 12}},
               "y2": {"field": "hi"}}},
            {"data": {"name": "phylum_box"}, "mark": {"type": "bar", "stroke": "#444444", "strokeWidth": 0.5},
             "encoding": {"x": {"field": "cat", "type": "nominal"}, "y": {"field": "q1", "type": "quantitative"}, "y2": {"field": "q3"},
               "color": {"field": "cat", "type": "nominal", "legend": null, "scale": {"domain": ["Firmicutes", "Proteobacteria", "Actinobacteria", "Bacteroidetes", "unclassified.P1", "Fusobacteria", "Epsilonbacteraeota", "Cyanobacteria", "Patescibacteria", "Tenericutes"], "range": ["#F8766D", "#D89000", "#A3A500", "#39B600", "#00BF7D", "#00BFC4", "#00B0F6", "#9590FF", "#E76BF3", "#FF62BC"]}}}},
            {"data": {"name": "phylum_box"}, "mark": {"type": "tick", "color": "#333333", "thickness": 1, "size": 23},
             "encoding": {"x": {"field": "cat", "type": "nominal"}, "y": {"field": "med", "type": "quantitative"}}},
            {"data": {"name": "phylum_out"}, "mark": {"type": "circle", "color": "#222222", "opacity": 1, "size": 6},
             "encoding": {"x": {"field": "cat", "type": "nominal"}, "y": {"field": "v", "type": "quantitative"}}}
          ]
        },
        {
          "width": 306, "height": 216,
          "layer": [
            {"data": {"name": "genus_box"}, "mark": {"type": "rule", "color": "#555555", "strokeWidth": 0.6},
             "encoding": {
               "x": {"field": "cat", "type": "nominal", "scale": {"domain": ["Streptococcus", "Staphylococcus", "unclassified.G75", "Enterococcus", "Escherichia", "Veillonella", "Lactobacillus", "Prevotella", "BCP", "Acinetobacter"], "paddingInner": 0.25, "paddingOuter": 0.225},
                     "axis": {"title": null, "labelAngle": -45, "labelAlign": "right", "labelBaseline": "top", "labelFontSize": 14, "ticks": false, "grid": true, "gridColor": "#EBEBEB", "bandPosition": 0.5, "labelPadding": 2, "labelColor": "#000000"}},
               "y": {"field": "lo", "type": "quantitative", "scale": {"domain": [-5, 105], "nice": false, "zero": false},
                     "axis": {"title": "Genus per sample (%)", "values": [0, 12.5, 25, 37.5, 50, 62.5, 75, 87.5, 100], "tickCount": 30, "format": ".0f", "labelExpr": "datum.value % 25 == 0 ? datum.label : ''", "labelOverlap": false, "ticks": false, "gridColor": "#EBEBEB", "gridWidth": {"condition": {"test": "datum.value % 25 != 0", "value": 0.5}, "value": 1}, "labelPadding": 3, "titlePadding": 4}},
               "y2": {"field": "hi"}}},
            {"data": {"name": "genus_box"}, "mark": {"type": "bar", "stroke": "#444444", "strokeWidth": 0.5},
             "encoding": {"x": {"field": "cat", "type": "nominal"}, "y": {"field": "q1", "type": "quantitative"}, "y2": {"field": "q3"},
               "color": {"field": "cat", "type": "nominal", "legend": null, "scale": {"domain": ["Streptococcus", "Staphylococcus", "unclassified.G75", "Enterococcus", "Escherichia", "Veillonella", "Lactobacillus", "Prevotella", "BCP", "Acinetobacter"], "range": ["#F8766D", "#D89000", "#A3A500", "#39B600", "#00BF7D", "#00BFC4", "#00B0F6", "#9590FF", "#E76BF3", "#FF62BC"]}}}},
            {"data": {"name": "genus_box"}, "mark": {"type": "tick", "color": "#333333", "thickness": 1, "size": 22},
             "encoding": {"x": {"field": "cat", "type": "nominal"}, "y": {"field": "med", "type": "quantitative"}}},
            {"data": {"name": "genus_out"}, "mark": {"type": "circle", "color": "#222222", "opacity": 1, "size": 6},
             "encoding": {"x": {"field": "cat", "type": "nominal"}, "y": {"field": "v", "type": "quantitative"}}}
          ]
        }
      ]
    },
    {
      "resolve": {"scale": {"color": "independent"}},
      "spacing": 45,
      "vconcat": [
        {
          "title": {"text": "B", "anchor": "start", "fontSize": 21, "dx": -7.5, "offset": 2},
          "resolve": {"scale": {"color": "independent"}},
          "spacing": 44,
          "hconcat": [
            {
              "width": 290, "height": 220,
              "title": {"text": "Bray-Curtis", "anchor": "start", "frame": "group", "fontSize": 14.5, "offset": 8, "dx": 23},
              "layer": [
                {"data": {"name": "bc_ell"}, "mark": {"type": "line", "interpolate": "cardinal-closed", "strokeWidth": 1},
                 "encoding": {
                   "x": {"field": "x", "type": "quantitative", "scale": {"domain": [-0.816, 0.636], "nice": false, "zero": false},
                         "axis": {"title": "Axis1 (11.43%)", "values": [-0.6, -0.3, 0, 0.3, 0.6, -0.45, -0.15, 0.15, 0.45], "tickCount": 30, "format": ".1f", "labelExpr": "abs(datum.value/0.3 - round(datum.value/0.3)) < 0.01 ? replace(datum.label, '\u2212', '-') : ''", "labelOverlap": false, "ticks": false, "gridColor": "#EBEBEB", "gridWidth": {"condition": {"test": "abs(datum.value/0.3 - round(datum.value/0.3)) > 0.01", "value": 0.5}, "value": 1}, "labelPadding": 7, "titlePadding": 5}},
                   "y": {"field": "y", "type": "quantitative", "scale": {"domain": [-0.59, 0.49], "nice": false, "zero": false},
                         "axis": {"title": "Axis2 (7.18%)", "offset": -22, "values": [-0.5, -0.25, 0, 0.25, -0.375, -0.125, 0.125, 0.375], "tickCount": 30, "format": ".2f", "labelExpr": "abs(datum.value/0.25 - round(datum.value/0.25)) < 0.01 ? replace(datum.label, '\u2212', '-') : ''", "labelOverlap": false, "ticks": false, "gridColor": "#EBEBEB", "gridWidth": {"condition": {"test": "abs(datum.value/0.25 - round(datum.value/0.25)) > 0.01", "value": 0.5}, "value": 1}, "labelPadding": 3, "titlePadding": 14}},
                   "stroke": {"field": "g", "type": "nominal", "legend": null, "scale": {"domain": ["IPA", "Control"], "range": ["#F8766D", "#00BFC4"]}},
                   "order": {"field": "i", "type": "quantitative"}}},
                {"data": {"name": "bc_pts"}, "mark": {"type": "circle", "size": 24, "opacity": 1},
                 "encoding": {"x": {"field": "x", "type": "quantitative"}, "y": {"field": "y", "type": "quantitative"},
                   "color": {"field": "g", "type": "nominal", "legend": null, "scale": {"domain": ["IPA", "Control"], "range": ["#F8766D", "#00BFC4"]}}}}
              ]
            },
            {
              "width": 265, "height": 221,
              "title": {"text": "Jaccard", "anchor": "start", "frame": "group", "fontSize": 14.5, "offset": 8},
              "layer": [
                {"data": {"name": "jac_ell"}, "mark": {"type": "line", "interpolate": "cardinal-closed", "strokeWidth": 1},
                 "encoding": {
                   "x": {"field": "x", "type": "quantitative", "scale": {"domain": [-0.626, 0.542], "nice": false, "zero": false},
                         "axis": {"title": "Axis1 (12.2%)", "values": [-0.6, -0.3, 0, 0.3, -0.45, -0.15, 0.15, 0.45], "tickCount": 30, "format": ".1f", "labelExpr": "abs(datum.value/0.3 - round(datum.value/0.3)) < 0.01 ? replace(datum.label, '\u2212', '-') : ''", "labelOverlap": false, "ticks": false, "gridColor": "#EBEBEB", "gridWidth": {"condition": {"test": "abs(datum.value/0.3 - round(datum.value/0.3)) > 0.01", "value": 0.5}, "value": 1}, "labelPadding": 7, "titlePadding": 5}},
                   "y": {"field": "y", "type": "quantitative", "scale": {"domain": [-0.449, 0.487], "nice": false, "zero": false},
                         "axis": {"title": "Axis2 (7.65%)", "values": [-0.25, 0, 0.25, -0.375, -0.125, 0.125, 0.375], "tickCount": 30, "format": ".2f", "labelExpr": "abs(datum.value/0.25 - round(datum.value/0.25)) < 0.01 ? replace(datum.label, '\u2212', '-') : ''", "labelOverlap": false, "ticks": false, "gridColor": "#EBEBEB", "gridWidth": {"condition": {"test": "abs(datum.value/0.25 - round(datum.value/0.25)) > 0.01", "value": 0.5}, "value": 1}, "labelPadding": 4, "titlePadding": 10}},
                   "stroke": {"field": "g", "type": "nominal", "legend": null, "scale": {"domain": ["IPA", "Control"], "range": ["#F8766D", "#00BFC4"]}},
                   "order": {"field": "i", "type": "quantitative"}}},
                {"data": {"name": "jac_pts"}, "mark": {"type": "circle", "size": 24, "opacity": 1},
                 "encoding": {"x": {"field": "x", "type": "quantitative"}, "y": {"field": "y", "type": "quantitative"},
                   "color": {"field": "g", "type": "nominal", "scale": {"domain": ["IPA", "Control"], "range": ["#F8766D", "#00BFC4"]},
                     "legend": {"title": null, "orient": "none", "legendX": 270, "legendY": 101, "symbolType": "circle", "symbolSize": 30, "labelFontSize": 14.5, "labelColor": "#000000", "rowPadding": -1, "labelOffset": 3}}}}
              ]
            }
          ]
        },
        {
          "title": {"text": "C", "anchor": "start", "fontSize": 21, "dx": -12.5, "offset": 5},
          "resolve": {"scale": {"color": "independent"}},
          "spacing": 36,
          "hconcat": [
            {
              "bounds": "flush", "spacing": 0,
              "vconcat": [
                {"width": 121, "height": 20, "view": {"fill": "#D9D9D9", "stroke": null}, "data": {"values": [{"s": ""}]}, "mark": {"type": "text"}, "encoding": {"text": {"field": "s"}}},
                {"width": 121, "height": 221, "view": {"fill": "#EBEBEB", "stroke": null},
                 "layer": [
                   {"data": {"name": "div_box"}, "transform": [{"filter": "datum.m == 'Shannon'"}], "mark": {"type": "rule", "color": "#333333", "strokeWidth": 0.6},
                    "encoding": {
                      "x": {"field": "g", "type": "nominal", "scale": {"domain": ["IPA", "Control"], "paddingInner": 0.25, "paddingOuter": 0.225},
                            "axis": {"title": null, "labelAngle": 0, "labelAlign": "center", "ticks": true, "tickColor": "#333333", "tickSize": 3, "grid": true, "gridColor": "#FFFFFF", "gridWidth": 1.1, "bandPosition": 0.5, "labelPadding": 2, "labelColor": "#000000"}},
                      "y": {"field": "lo", "type": "quantitative", "scale": {"domain": [-0.09, 4.02], "nice": false, "zero": false},
                            "axis": {"title": "Shannon diversity index", "values": [0, 1, 2, 3, 4, 0.5, 1.5, 2.5, 3.5], "tickCount": 30, "format": ".0f", "labelExpr": "datum.value % 1 == 0 ? datum.label : ''", "labelOverlap": false, "ticks": true, "tickColor": "#333333", "tickSize": 3, "tickOpacity": {"condition": {"test": "datum.value % 1 != 0", "value": 0}, "value": 1}, "gridColor": "#FFFFFF", "gridWidth": {"condition": {"test": "datum.value % 1 != 0", "value": 0.55}, "value": 1.1}, "labelPadding": 0, "titlePadding": 12, "labelColor": "#000000"}},
                      "y2": {"field": "hi"}}},
                   {"data": {"name": "div_box"}, "transform": [{"filter": "datum.m == 'Shannon'"}], "mark": {"type": "bar", "stroke": "#333333", "strokeWidth": 0.5},
                    "encoding": {"x": {"field": "g", "type": "nominal"}, "y": {"field": "q1", "type": "quantitative"}, "y2": {"field": "q3"},
                      "color": {"field": "g", "type": "nominal", "legend": null, "scale": {"domain": ["IPA", "Control"], "range": ["#F8766D", "#00BFC4"]}}}},
                   {"data": {"name": "div_box"}, "transform": [{"filter": "datum.m == 'Shannon'"}], "mark": {"type": "tick", "color": "#333333", "thickness": 1, "size": 41},
                    "encoding": {"x": {"field": "g", "type": "nominal"}, "y": {"field": "med", "type": "quantitative"}}},
                   {"data": {"name": "div_pts"}, "transform": [{"filter": "datum.m == 'Shannon'"}], "mark": {"type": "circle", "color": "#000000", "opacity": 0.5, "size": 5},
                    "encoding": {"x": {"field": "g", "type": "nominal"}, "y": {"field": "v", "type": "quantitative"}}}
                 ]}
              ]
            },
            {
              "bounds": "flush", "spacing": 0,
              "vconcat": [
                {"width": 121, "height": 20, "view": {"fill": "#D9D9D9", "stroke": null}, "data": {"values": [{"s": ""}]}, "mark": {"type": "text"}, "encoding": {"text": {"field": "s"}}},
                {"width": 121, "height": 221, "view": {"fill": "#EBEBEB", "stroke": null},
                 "layer": [
                   {"data": {"name": "div_box"}, "transform": [{"filter": "datum.m == 'Simpson'"}], "mark": {"type": "rule", "color": "#333333", "strokeWidth": 0.6},
                    "encoding": {
                      "x": {"field": "g", "type": "nominal", "scale": {"domain": ["IPA", "Control"], "paddingInner": 0.25, "paddingOuter": 0.225},
                            "axis": {"title": null, "labelAngle": 0, "labelAlign": "center", "ticks": true, "tickColor": "#333333", "tickSize": 3, "grid": true, "gridColor": "#FFFFFF", "gridWidth": 1.1, "bandPosition": 0.5, "labelPadding": 2, "labelColor": "#000000"}},
                      "y": {"field": "lo", "type": "quantitative", "scale": {"domain": [-0.027, 1.015], "nice": false, "zero": false},
                            "axis": {"title": "Simpson diversity index", "values": [0, 0.25, 0.5, 0.75, 1, 0.125, 0.375, 0.625, 0.875], "tickCount": 30, "format": ".2f", "labelExpr": "abs(datum.value*4 - round(datum.value*4)) < 0.01 ? datum.label : ''", "labelOverlap": false, "ticks": true, "tickColor": "#333333", "tickSize": 3, "tickOpacity": {"condition": {"test": "abs(datum.value*4 - round(datum.value*4)) > 0.01", "value": 0}, "value": 1}, "gridColor": "#FFFFFF", "gridWidth": {"condition": {"test": "abs(datum.value*4 - round(datum.value*4)) > 0.01", "value": 0.55}, "value": 1.1}, "labelPadding": 0, "titlePadding": 10, "labelColor": "#000000"}},
                      "y2": {"field": "hi"}}},
                   {"data": {"name": "div_box"}, "transform": [{"filter": "datum.m == 'Simpson'"}], "mark": {"type": "bar", "stroke": "#333333", "strokeWidth": 0.5},
                    "encoding": {"x": {"field": "g", "type": "nominal"}, "y": {"field": "q1", "type": "quantitative"}, "y2": {"field": "q3"},
                      "color": {"field": "g", "type": "nominal", "legend": null, "scale": {"domain": ["IPA", "Control"], "range": ["#F8766D", "#00BFC4"]}}}},
                   {"data": {"name": "div_box"}, "transform": [{"filter": "datum.m == 'Simpson'"}], "mark": {"type": "tick", "color": "#333333", "thickness": 1, "size": 41},
                    "encoding": {"x": {"field": "g", "type": "nominal"}, "y": {"field": "med", "type": "quantitative"}}},
                   {"data": {"name": "div_pts"}, "transform": [{"filter": "datum.m == 'Simpson'"}], "mark": {"type": "circle", "color": "#000000", "opacity": 0.5, "size": 5},
                    "encoding": {"x": {"field": "g", "type": "nominal"}, "y": {"field": "v", "type": "quantitative"}}}
                 ]}
              ]
            },
            {
              "bounds": "flush", "spacing": 0,
              "vconcat": [
                {"width": 121, "height": 20, "view": {"fill": "#D9D9D9", "stroke": null}, "data": {"values": [{"s": ""}]}, "mark": {"type": "text"}, "encoding": {"text": {"field": "s"}}},
                {"width": 121, "height": 221, "view": {"fill": "#EBEBEB", "stroke": null},
                 "layer": [
                   {"data": {"name": "div_box"}, "transform": [{"filter": "datum.m == 'Richness'"}], "mark": {"type": "rule", "color": "#333333", "strokeWidth": 0.6},
                    "encoding": {
                      "x": {"field": "g", "type": "nominal", "scale": {"domain": ["IPA", "Control"], "paddingInner": 0.25, "paddingOuter": 0.225},
                            "axis": {"title": null, "labelAngle": 0, "labelAlign": "center", "ticks": true, "tickColor": "#333333", "tickSize": 3, "grid": true, "gridColor": "#FFFFFF", "gridWidth": 1.1, "bandPosition": 0.5, "labelPadding": 2, "labelColor": "#000000"}},
                      "y": {"field": "lo", "type": "quantitative", "scale": {"domain": [-0.5, 171], "nice": false, "zero": false},
                            "axis": {"title": "Species richness", "values": [40, 80, 120, 160, 20, 60, 100, 140], "tickCount": 30, "format": ".0f", "labelExpr": "datum.value % 40 == 0 ? datum.label : ''", "labelOverlap": false, "ticks": true, "tickColor": "#333333", "tickSize": 3, "tickOpacity": {"condition": {"test": "datum.value % 40 != 0", "value": 0}, "value": 1}, "gridColor": "#FFFFFF", "gridWidth": {"condition": {"test": "datum.value % 40 != 0", "value": 0.55}, "value": 1.1}, "labelPadding": 0, "titlePadding": 6, "labelColor": "#000000"}},
                      "y2": {"field": "hi"}}},
                   {"data": {"name": "div_box"}, "transform": [{"filter": "datum.m == 'Richness'"}], "mark": {"type": "bar", "stroke": "#333333", "strokeWidth": 0.5},
                    "encoding": {"x": {"field": "g", "type": "nominal"}, "y": {"field": "q1", "type": "quantitative"}, "y2": {"field": "q3"},
                      "color": {"field": "g", "type": "nominal", "legend": null, "scale": {"domain": ["IPA", "Control"], "range": ["#F8766D", "#00BFC4"]}}}},
                   {"data": {"name": "div_box"}, "transform": [{"filter": "datum.m == 'Richness'"}], "mark": {"type": "tick", "color": "#333333", "thickness": 1, "size": 41},
                    "encoding": {"x": {"field": "g", "type": "nominal"}, "y": {"field": "med", "type": "quantitative"}}},
                   {"data": {"name": "div_pts"}, "transform": [{"filter": "datum.m == 'Richness'"}], "mark": {"type": "circle", "color": "#000000", "opacity": 0.5, "size": 5},
                    "encoding": {"x": {"field": "g", "type": "nominal"}, "y": {"field": "v", "type": "quantitative"}}}
                 ]}
              ]
            }
          ]
        }
      ]
    }
  ]
}
